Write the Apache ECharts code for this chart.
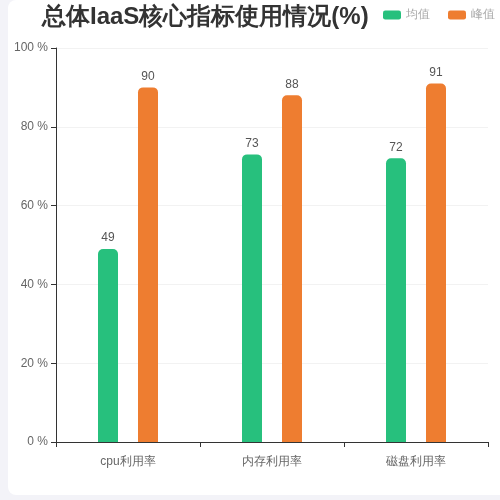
<!DOCTYPE html>
<html>
<head>
<meta charset="utf-8">
<script src="https://cdn.jsdelivr.net/npm/echarts@6/dist/echarts.min.js"></script>
<style>
  html, body { margin: 0; padding: 0; background: #f3f3f8; }
  #card { position: absolute; left: 8px; top: 0; width: 510px; height: 495px; background: #fff; border-radius: 8px; }
  #main { position: absolute; left: 0; top: 0; width: 500px; height: 500px; }
</style>
</head>
<body>
<div id="card"></div>
<div id="main"></div>
<script>
const categories = ['cpu利用率', '内存利用率', '磁盘利用率'];
const avgValues = [49, 73, 72];
const peakValues = [90, 88, 91];
const seriesNames = ['均值', '峰值'];

const chart = echarts.init(document.getElementById('main'));

const option = {
  backgroundColor: 'transparent',
  title: {
    text: '总体IaaS核心指标使用情况(%)',
    left: 37,
    top: 0,
    textStyle: { fontSize: 24, fontWeight: 'bold', color: '#333' }
  },
  legend: {
    data: seriesNames,
    right: 0,
    top: 4,
    icon: 'roundRect',
    itemWidth: 18,
    itemHeight: 9,
    itemGap: 18,
    textStyle: { color: '#aaa', fontSize: 12 }
  },
  grid: { left: 56, right: 12, top: 48, bottom: 58 },
  xAxis: {
    type: 'category',
    data: categories,
    axisLine: { lineStyle: { color: '#333' } },
    axisTick: { show: true },
    axisLabel: { color: '#666', fontSize: 12, margin: 14 }
  },
  yAxis: {
    type: 'value',
    min: 0,
    max: 100,
    interval: 20,
    axisLine: { show: true, lineStyle: { color: '#333' } },
    axisTick: { show: true },
    axisLabel: { color: '#666', fontSize: 12, formatter: '{value} %' },
    splitLine: { lineStyle: { color: '#f2f2f2' } }
  },
  series: [
    {
      name: seriesNames[0],
      type: 'bar',
      data: avgValues,
      barWidth: 20,
      barGap: '100%',
      itemStyle: { color: '#27c07d', borderRadius: [5, 5, 0, 0] },
      label: { show: true, position: 'top', color: '#555', fontSize: 12 }
    },
    {
      name: seriesNames[1],
      type: 'bar',
      data: peakValues,
      barWidth: 20,
      itemStyle: { color: '#ee7d30', borderRadius: [5, 5, 0, 0] },
      label: { show: true, position: 'top', color: '#555', fontSize: 12 }
    }
  ]
};

option && chart.setOption(option);
</script>
</body>
</html>
